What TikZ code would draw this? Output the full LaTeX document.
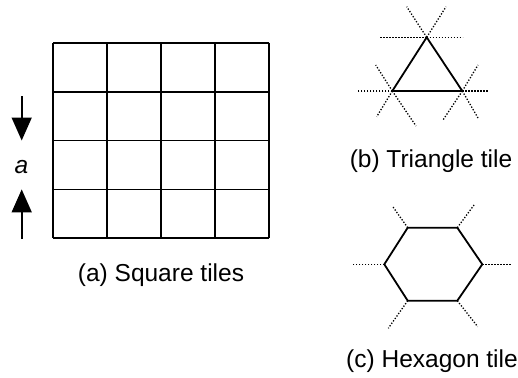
\documentclass[tikz,border=0pt]{standalone}
\usepackage{fontspec}
\setmainfont{Liberation Sans}
\usetikzlibrary{arrows.meta}

\begin{document}
\begin{tikzpicture}[x=1pt, y=-1pt,
  tile/.style={line width=1.8pt},
  ext/.style={line width=1.3pt, dash pattern=on 1.3pt off 1.7pt},
  caption/.style={font=\fontsize{24.5}{28}\selectfont, inner sep=0pt},
  bigarrow/.style={line width=1.6pt, -{Triangle[width=20pt,length=23pt]}}]
\useasboundingbox (0,0) rectangle (518,377);
% Square tiles
\foreach \i in {0,...,4} {
  \draw[tile] (53+53.9*\i,42.7) -- (53+53.9*\i,238.3);
  \draw[tile] (53,42.7+48.9*\i) -- (268.6,42.7+48.9*\i);
}
% Define the arrow ends
\coordinate (d0) at (21.7,96);
\coordinate (d1) at (21.7,140.5);
\coordinate (u0) at (21.7,239);
\coordinate (u1) at (21.7,189.4);
\draw[bigarrow] (d0) -- (d1);
\draw[bigarrow] (u0) -- (u1);
\node[caption, font=\fontsize{24.5}{28}\selectfont\itshape] at (21.5,166.7) (a) {a};
% Triangle tile
\coordinate (A) at (426.7,37.3);
\coordinate (B) at (392.3,91);
\coordinate (C) at (462.3,91);
\draw[tile] (A) -- (B) -- (C) -- cycle;
\foreach \dx/\dy in {-46.7/0, 36/0, -20/-30.6, 19.3/-30.6}
  \draw[ext] (A) -- ++(\dx,\dy);
\foreach \dx/\dy in {-35.6/0, -16.6/-26, -15.6/25.7, 23.7/35}
  \draw[ext] (B) -- ++(\dx,\dy);
\foreach \dx/\dy in {26.7/0, 15.7/-26, 15.7/27, -19.3/29}
  \draw[ext] (C) -- ++(\dx,\dy);
% Hexagon tile
\coordinate (h1) at (407.7,227.7);
\coordinate (h2) at (457.3,227.7);
\coordinate (h3) at (482.3,264.3);
\coordinate (h4) at (457.3,300.7);
\coordinate (h5) at (407.7,300.7);
\coordinate (h6) at (384.3,264.3);
\draw[tile] (h1) -- (h2) -- (h3) -- (h4) -- (h5) -- (h6) -- cycle;
\draw[ext] (h1) -- ++(-15.4,-21.7);
\draw[ext] (h2) -- ++(16.7,-22.7);
\draw[ext] (h3) -- ++(29.4,0);
\draw[ext] (h4) -- ++(20.4,26);
\draw[ext] (h5) -- ++(-19.4,27.6);
\draw[ext] (h6) -- ++(-31.6,0);
% Captions
\node[caption] at (161,275) (sq) {(a) Square tiles};
\node[caption] at (431,161) (tri) {(b) Triangle tile};
\node[caption] at (432,361) (hex) {(c) Hexagon tile};
\end{tikzpicture}
\end{document}
